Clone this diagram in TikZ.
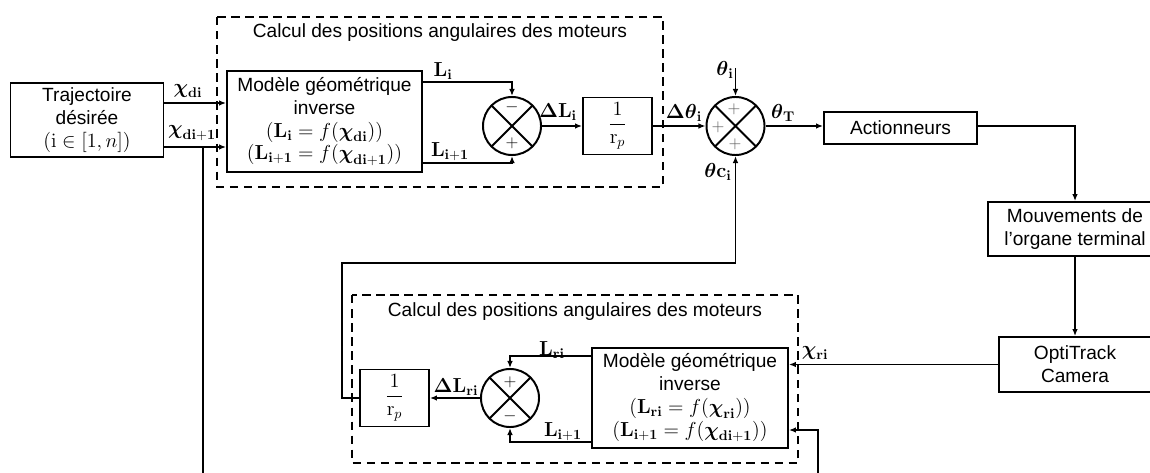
\documentclass[tikz,border=0pt]{standalone}
\usepackage{amsmath,amssymb}
\usepackage[no-math]{fontspec}
\setmainfont{Liberation Sans}
\usetikzlibrary{arrows.meta,positioning,calc}

\begin{document}
\begin{tikzpicture}[
    x=0.025cm, y=-0.025cm,
    font=\fontsize{13.6}{16.2}\selectfont,
    block/.style={draw, line width=1.3pt, align=center, inner sep=0pt},
    sumnode/.style={draw, circle, line width=1.4pt, minimum size=1.45cm, inner sep=0pt,
      path picture={\draw[line width=1.4pt] (path picture bounding box.north west) -- (path picture bounding box.south east)
        (path picture bounding box.north east) -- (path picture bounding box.south west);}},
    frame/.style={draw, line width=1.3pt, dash pattern=on 6pt off 4pt},
    wire/.style={line width=1.4pt},
    lbl/.style={inner sep=0pt},
    sign/.style={inner sep=0pt, font=\fontsize{12}{12}\selectfont},
    >={Latex[length=5pt,width=4pt]}
]
  \clip (0,0) rectangle (1150,473);

  % top block
  \draw[frame] (217,17) rectangle (663,187);
  \node[lbl] (title1) at (440,33) {Calcul des positions angulaires des moteurs};
  \node[block, minimum width=3.825cm, minimum height=1.85cm] (traj) at (87,120) {Trajectoire\\désirée\\$(\mathrm{i}\in[1,n])$};
  \node[block, minimum width=4.875cm, minimum height=2.525cm] (model1) at (324.5,121.5)
    {Modèle géométrique\\inverse\\$(\mathbf{L}_{\mathbf{i}}=f(\boldsymbol{\chi}_{\mathbf{di}}))$\\$(\mathbf{L}_{\mathbf{i+1}}=f(\boldsymbol{\chi}_{\mathbf{di+1}}))$};
  \node[sumnode] (sum1) at (512,126) {};
  \node[sign] (sum1a) at (512,107) {$-$};
  \node[sign] (sum1b) at (512,143) {$+$};
  \node[block, minimum width=1.725cm, minimum height=1.425cm] (gain1) at (617.5,126) {$\dfrac{1}{\mathrm{r}_p}$};
  \node[sumnode] (sum2) at (735.5,126) {};
  \node[sign, black!65] (sum2a) at (734,109) {$+$};
  \node[sign, black!65] (sum2b) at (718,127) {$+$};
  \node[sign, black!65] (sum2c) at (735,144) {$+$};
  \node[block, minimum width=3.825cm, minimum height=0.8cm] (act) at (900.5,128) {Actionneurs};
  \node[block, minimum width=4.35cm, minimum height=1.35cm] (mouv) at (1075,229) {Mouvements de\\l’organe terminal};
  \node[block, minimum width=3.8cm, minimum height=1.375cm] (opti) at (1075,364.5) {OptiTrack\\Camera};

  % bottom block
  \draw[frame] (352,295) rectangle (798,463);
  \node[lbl] (title2) at (575,312) {Calcul des positions angulaires des moteurs};
  \node[block, minimum width=4.9cm, minimum height=2.5cm] (model2) at (690,398)
    {Modèle géométrique\\inverse\\$(\mathbf{L}_{\mathbf{ri}}=f(\boldsymbol{\chi}_{\mathbf{ri}}))$\\$(\mathbf{L}_{\mathbf{i+1}}=f(\boldsymbol{\chi}_{\mathbf{di+1}}))$};
  \node[sumnode] (sum3) at (510,398) {};
  \node[sign] (sum3a) at (510,382) {$+$};
  \node[sign] (sum3b) at (510,416) {$-$};
  \node[block, minimum width=1.725cm, minimum height=1.425cm] (gain2) at (394.5,398) {$\dfrac{1}{\mathrm{r}_p}$};

  % signal labels
  \node[lbl] (chidi) at (188,91) {$\boldsymbol{\chi}_{\mathbf{di}}$};
  \node[lbl] (chidii) at (192,133) {$\boldsymbol{\chi}_{\mathbf{di+1}}$};
  \node[lbl] (li) at (443,71) {$\mathbf{L}_{\mathbf{i}}$};
  \node[lbl] (lii) at (450,152) {$\mathbf{L}_{\mathbf{i+1}}$};
  \node[lbl] (dli) at (558,112) {$\boldsymbol{\Delta}\mathbf{L}_{\mathbf{i}}$};
  \node[lbl] (dthi) at (684,113) {$\boldsymbol{\Delta\theta}_{\mathbf{i}}$};
  \node[lbl] (thi) at (725,70) {$\boldsymbol{\theta}_{\mathbf{i}}$};
  \node[lbl] (tht) at (783,113) {$\boldsymbol{\theta}_{\mathbf{T}}$};
  \node[lbl] (thci) at (718,172) {$\boldsymbol{\theta}\mathbf{c}_{\mathbf{i}}$};
  \node[lbl] (chiri) at (815,353) {$\boldsymbol{\chi}_{\mathbf{ri}}$};
  \node[lbl] (lri) at (552,350) {$\mathbf{L}_{\mathbf{ri}}$};
  \node[lbl] (lii2) at (563,432) {$\mathbf{L}_{\mathbf{i+1}}$};
  \node[lbl] (dlri) at (456,387) {$\boldsymbol{\Delta}\mathbf{L}_{\mathbf{ri}}$};

  % helper points
  \coordinate (rowdi) at (0,103);
  \coordinate (rowdii) at (0,147);
  \coordinate (rowL) at (0,82);
  \coordinate (rowLi) at (0,163);
  \coordinate (rowLr) at (0,356);
  \coordinate (rowLii) at (0,442);
  \coordinate (rowfb) at (0,430);
  \coordinate (split) at (203,147);
  \coordinate (bend) at (818,490);
  \coordinate (thin) at (735.5,68);
  \coordinate (back) at (342,263);

  \draw[wire,->] (traj.east |- rowdi) -- (model1.west |- rowdi);
  \draw[wire,->] (traj.east |- rowdii) -- (model1.west |- rowdii);
  \draw[wire,->] (split) |- (bend) |- (model2.east |- rowfb);
  \draw[wire,->] (model1.east |- rowL) -| (sum1.north);
  \draw[wire,->] (model1.east |- rowLi) -| (sum1.south);
  \draw[wire,->] (sum1.east) -- (gain1.west);
  \draw[wire,->] (gain1.east) -- (sum2.west);
  \draw[wire,->] (thin) -- (sum2.north);
  \draw[wire,->] (sum2.east) -- (act.west |- sum2.east);
  \draw[wire,->] (act.east |- sum2.east) -| (mouv.north);
  \draw[wire,->] (mouv.south) -- (opti.north);
  \draw[wire,->] (opti.west) -- (opti.west -| model2.east);
  \draw[wire,->] (model2.west |- rowLr) -| (sum3.north);
  \draw[wire,->] (model2.west |- rowLii) -| (sum3.south);
  \draw[wire,->] (sum3.west) -- (gain2.east);
  \draw[wire,->] (gain2.west) -| (back) -| (sum2.south);
\end{tikzpicture}
\end{document}
